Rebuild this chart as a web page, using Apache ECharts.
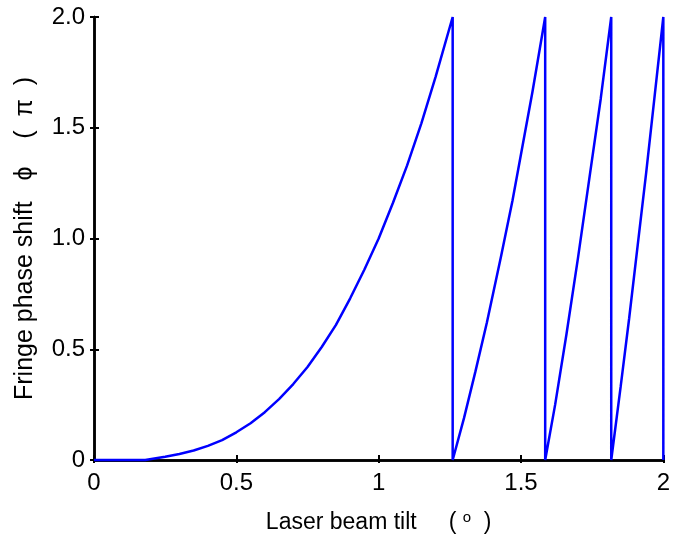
<!DOCTYPE html>
<html>
<head>
<meta charset="utf-8">
<script src="https://cdn.jsdelivr.net/npm/echarts@6/dist/echarts.min.js"></script>
<style>
  html, body { margin: 0; padding: 0; background: #fff; }
  #chart { width: 673px; height: 539px; }
</style>
</head>
<body>
<div id="chart"></div>
<script>
// tilt angle (deg) and wrapped phase shift (in units of pi)
// repeated x values are the vertical 2pi -> 0 wraps
const tiltDeg = [
  0, 0.1, 0.18, 0.25, 0.3, 0.35, 0.4, 0.45, 0.5, 0.55, 0.6, 0.65, 0.7, 0.75,
  0.8, 0.85, 0.9, 0.95, 1.0, 1.05, 1.1, 1.15, 1.2, 1.26,
  1.26, 1.30, 1.34, 1.38, 1.43, 1.47, 1.50, 1.54, 1.585,
  1.585, 1.62, 1.66, 1.70, 1.74, 1.78, 1.817,
  1.817, 1.85, 1.88, 1.91, 1.94, 1.97, 2.0,
  2.0
];
const phaseShift = [
  0, 0, 0, 0.015, 0.027, 0.043, 0.064, 0.09, 0.125, 0.166, 0.216, 0.275, 0.343, 0.42,
  0.51, 0.61, 0.73, 0.86, 1.0, 1.16, 1.33, 1.52, 1.73, 2.0,
  0, 0.19, 0.40, 0.62, 0.92, 1.17, 1.38, 1.66, 2.0,
  0, 0.25, 0.57, 0.91, 1.27, 1.63, 2.0,
  0, 0.33, 0.64, 0.97, 1.30, 1.65, 2.0,
  0
];
const xTicks = ['0', '0.5', '1', '1.5', '2'];
const yTicks = ['0', '0.5', '1.0', '1.5', '2.0'];

const chart = echarts.init(document.getElementById('chart'));
const font = 'Liberation Sans, Arial, sans-serif';

const option = {
  animation: false,
  grid: { left: 94, right: 7, top: 17, bottom: 78 },
  xAxis: [{
    type: 'value', min: 0, max: 2, interval: 0.5,
    name: 'Laser beam tilt     ( {sup|o}  )',
    nameLocation: 'middle', nameGap: 50,
    nameTextStyle: {
      color: '#000', fontFamily: font, fontSize: 23,
      rich: { sup: { fontSize: 15, verticalAlign: 'top', padding: [0, 0, 10, 0], fontFamily: font, color: '#000' } }
    },
    axisLine: { lineStyle: { color: '#000', width: 2.5 } },
    axisTick: { inside: true, length: 5, lineStyle: { color: '#000', width: 2 } },
    axisLabel: {
      color: '#000', fontFamily: font, fontSize: 24, margin: 11,
      formatter: (v) => xTicks[Math.round(v / 0.5)]
    },
    splitLine: { show: false }
  }, {
    type: 'value', min: 0, max: 2, interval: 0.5, position: 'top',
    axisLine: { lineStyle: { color: '#000', width: 2.5 } },
    axisTick: { inside: true, length: 3, lineStyle: { color: '#000', width: 2 } },
    axisLabel: { show: false },
    splitLine: { show: false }
  }],
  yAxis: [{
    type: 'value', min: 0, max: 2, interval: 0.5,
    name: 'Fringe phase shift   \u03d5    (  \u03c0  )',
    nameLocation: 'middle', nameGap: 56,
    nameTextStyle: { color: '#000', fontFamily: font, fontSize: 25 },
    axisLine: { lineStyle: { color: '#000', width: 2.5 } },
    axisTick: { inside: true, length: 5, lineStyle: { color: '#000', width: 2 } },
    axisLabel: {
      color: '#000', fontFamily: font, fontSize: 24, margin: 9,
      formatter: (v) => yTicks[Math.round(v / 0.5)]
    },
    splitLine: { show: false }
  }, {
    type: 'value', min: 0, max: 2, interval: 0.5, position: 'right',
    axisLine: { lineStyle: { color: '#000', width: 2.5 } },
    axisTick: { inside: true, length: 4, lineStyle: { color: '#000', width: 2 } },
    axisLabel: { show: false },
    splitLine: { show: false }
  }],
  series: [{
    type: 'line',
    data: tiltDeg.map((t, i) => [t, phaseShift[i]]),
    showSymbol: false,
    clip: false,
    lineStyle: { color: '#0000ff', width: 2.5 }
  }]
};

chart.setOption(option);
</script>
</body>
</html>
